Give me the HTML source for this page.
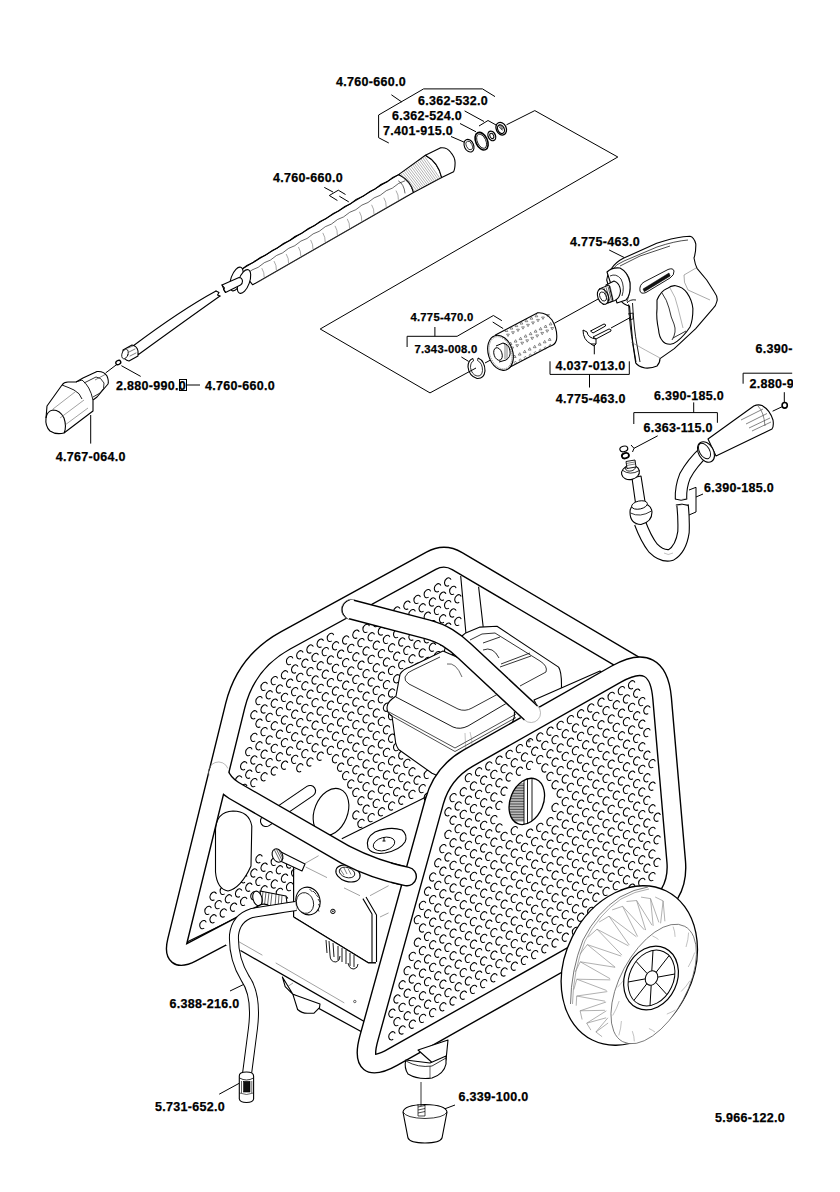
<!DOCTYPE html><html><head><meta charset="utf-8"><style>
html,body{margin:0;padding:0;background:#fff;width:840px;height:1192px;overflow:hidden}
svg{display:block}
text{font-family:"Liberation Sans",sans-serif;font-weight:bold;font-size:12.5px;letter-spacing:0.3px;fill:#000;stroke:#000;stroke-width:0.25px}
</style></head><body>
<svg width="840" height="1192" viewBox="0 0 840 1192">
<rect width="840" height="1192" fill="#fff"/>

<g>
<text x="336" y="86">4.760-660.0</text>
<text x="418" y="105">6.362-532.0</text>
<text x="392" y="119.5">6.362-524.0</text>
<text x="383" y="134.5">7.401-915.0</text>
<text x="273" y="182">4.760-660.0</text>
<text x="570" y="246">4.775-463.0</text>
<text x="555.5" y="369.8">4.037-013.0</text>
<text x="555.7" y="403">4.775-463.0</text>
<text x="654" y="399.5">6.390-185.0</text>
<text x="755.5" y="353.3">6.390-</text>
<text x="749.4" y="388.3">2.880-9</text>
<text x="643.5" y="431.8">6.363-115.0</text>
<text x="704" y="491.8">6.390-185.0</text>
<text x="116" y="389.5">2.880-990.0</text>
<text x="205" y="389.5">4.760-660.0</text>
<text x="55.7" y="461.4">4.767-064.0</text>
<text x="169.6" y="1007.7">6.388-216.0</text>
<text x="155" y="1111.1">5.731-652.0</text>
<text x="458.5" y="1101">6.339-100.0</text>
<text x="715" y="1121.7">5.966-122.0</text>
<text x="410.4" y="321" style="font-size:11.3px;letter-spacing:0.25px">4.775-470.0</text>
<text x="414.4" y="352.6" style="font-size:11.3px;letter-spacing:0.25px">7.343-008.0</text>
</g>
<rect x="793" y="340" width="47" height="55" fill="#fff"/>
<g fill="none" stroke="#000" stroke-width="1" stroke-linejoin="miter">
<polyline points="388.8,143.0 378.6,137.7 378.6,115.0 423.6,88.9 482.5,88.9 495.0,96.6"/>
<polyline points="391.4,94.8 401.8,102.0"/>
<polyline points="464.6,110.9 484.0,121.5"/>
<polyline points="479.0,126.0 488.0,120.5 497.0,125.5"/>
<polyline points="460.0,123.5 476.0,131.8"/>
<polyline points="451.0,136.5 464.5,142.3"/>
<polyline points="506.5,124.8 534.8,110.6 617.8,157.0 320.2,329.0 430.0,392.9 476.0,368.0"/>
<polyline points="485.0,363.0 495.4,357.4"/>
<polyline points="554.3,323.3 599.6,298.2"/>
<polyline points="324.3,187.4 333.1,192.1"/>
<polyline points="337.4,200.5 329.3,195.5 338.3,190.2 345.5,194.5"/>
<polyline points="339.3,196.2 348.8,201.9"/>
<rect x="179.5" y="379.5" width="7" height="11"/>
<polyline points="186.5,385.0 200.0,385.0"/>
<polyline points="121.4,365.7 140.7,376.4"/>
<polyline points="105.7,372.9 117.0,364.3"/>
<polyline points="90.7,415.0 90.7,443.6"/>
<polyline points="133.0,349.0 129.0,352.0"/>
<polyline points="407.1,347.0 407.1,336.3 457.1,336.3 493.4,315.5 501.9,320.7"/>
<polyline points="434.9,327.0 434.9,336.3"/>
<polyline points="492.7,322.0 503.2,328.6"/>
<polyline points="461.4,357.0 468.6,361.4"/>
<polyline points="550.0,361.3 550.0,374.4 629.3,374.4 629.3,361.3"/>
<polyline points="589.5,374.4 589.5,387.5"/>
<polyline points="594.3,345.7 594.3,354.3"/>
<polyline points="611.0,328.0 633.0,316.0"/>
<polyline points="609.2,250.0 624.2,257.5"/>
<polyline points="633.8,424.0 633.8,412.6 717.4,412.6 717.4,422.8"/>
<polyline points="693.7,402.4 693.7,412.6"/>
<polyline points="657.7,435.8 634.0,448.3"/>
<polyline points="631.0,445.0 634.0,448.3 632.5,452.0"/>
<polyline points="743.1,383.7 743.1,373.2 792.2,373.2"/>
<polyline points="784.3,392.2 784.3,402.5"/>
<polyline points="772.6,411.2 782.4,406.6"/>
<polyline points="689.0,490.0 696.0,487.3 696.0,512.0 689.0,515.0"/>
<polyline points="703.0,494.0 696.0,497.0"/>
<polyline points="230.0,991.0 246.0,983.3"/>
<polyline points="219.2,1094.2 239.2,1083.3"/>
<polyline points="435.0,1112.5 455.0,1105.0"/>
</g>
<g fill="#fff" stroke="#000" stroke-width="1.1">
<ellipse cx="469" cy="145.7" rx="4.6" ry="6.6" transform="rotate(-25 469 145.7)"/>
<ellipse cx="469.3" cy="145.6" rx="2.8" ry="4.6" transform="rotate(-25 469 145.7)" stroke-width="0.7"/>
<ellipse cx="481.6" cy="141.2" rx="5.8" ry="9.3" transform="rotate(-25 481.6 141.2)" fill="none" stroke-width="1.6"/>
<ellipse cx="481.6" cy="141.2" rx="4.2" ry="7.6" transform="rotate(-25 481.6 141.2)" fill="none" stroke-width="0.8"/>
<ellipse cx="491.8" cy="135.9" rx="3.6" ry="5" transform="rotate(-25 491.8 135.9)" stroke-width="1.3"/>
<ellipse cx="491.8" cy="135.9" rx="1.8" ry="2.8" transform="rotate(-25 491.8 135.9)" stroke-width="1"/>
<ellipse cx="501.2" cy="128.7" rx="5" ry="6.6" transform="rotate(-25 501.2 128.7)" stroke-width="1.3"/>
<ellipse cx="500.8" cy="129" rx="3.2" ry="4.6" transform="rotate(-25 501.2 128.7)" stroke-width="1.2"/>
<path d="M498.5 126.5l4 4M499 125l3.5 5M500 124.5l3 4.5" stroke-width="0.6"/>
</g>
<g fill="#fff" stroke="#000" stroke-width="1.1" stroke-linejoin="round" stroke-linecap="round">
<path d="M216 291 Q181 310 133 346 L138.5 354.5 Q186 320 220 296" />
<path d="M216 291 L219 292.5 L217.5 295 L220 296" fill="none"/>
<path d="M240.8 269.9 L398.6 174.6 Q408 178 411 186 Q413 190 413.5 192.5 L252.7 284.8 Z"/>
<path d="M246 274.5 Q252.1 268.9 258.2 267.3 Q264.3 261.7 270.4 260.1 Q276.5 254.5 282.6 252.9 Q288.7 247.3 294.8 245.7 Q300.9 240.1 307.0 238.5 Q313.1 232.9 319.2 231.3 Q325.3 225.7 331.4 224.1 Q337.5 218.5 343.6 216.9 Q349.7 211.3 355.8 209.7 Q361.9 204.1 368.0 202.5 Q374.1 196.9 380.2 195.3 Q386.3 189.7 392.4 188.1 Q398.5 182.5 404.6 180.9" fill="none" stroke-width="0.6"/>
<path d="M241 270 Q247.1 264.6 253.2 262.6 Q259.3 257.2 265.4 255.3 Q271.5 249.9 277.6 247.9 Q283.7 242.5 289.8 240.5 Q295.9 235.1 302.0 233.2 Q308.1 227.8 314.2 225.8 Q320.3 220.4 326.4 218.4 Q332.5 213.0 338.6 211.0 Q344.7 205.6 350.8 203.7 Q356.9 198.3 363.0 196.3 Q369.1 190.9 375.2 188.9 Q381.3 183.5 387.4 181.6 Q393.5 176.2 399.6 174.2" fill="none" stroke-width="1.1"/>
<path d="M258.7 281.8 L407.5 195.5" fill="none" stroke-width="0.5" stroke="#555"/>
<path d="M262.0 268.5 q2.5 4 2.2 8.5 M274.2 261.4 q2.5 4 2.2 8.5 M286.4 254.4 q2.5 4 2.2 8.5 M298.6 247.3 q2.5 4 2.2 8.5 M310.8 240.3 q2.5 4 2.2 8.5 M323.0 233.2 q2.5 4 2.2 8.5 M335.2 226.2 q2.5 4 2.2 8.5 M347.4 219.2 q2.5 4 2.2 8.5 M359.6 212.1 q2.5 4 2.2 8.5 M371.8 205.1 q2.5 4 2.2 8.5 M384.0 198.0 q2.5 4 2.2 8.5 M396.2 190.9 q2.5 4 2.2 8.5 " fill="none" stroke-width="0.5" stroke="#555"/>
<path d="M398.6 181 Q404 184 405 193" fill="none" stroke-width="0.6"/>
<path d="M398.6 174.6 L425.4 155.3 Q438 162 441.7 177.6 L413.5 192.5 Q411 181 398.6 174.6 Z"/>
<path d="M401.0 174.0L415.0 191.5M402.7 172.8L416.8 190.6M404.4 171.5L418.6 189.6M406.0 170.2L420.4 188.7M407.7 169.0L422.1 187.8M409.4 167.8L423.9 186.9M411.1 166.5L425.7 185.9M412.8 165.2L427.5 185.0M414.4 164.0L429.3 184.1M416.1 162.8L431.1 183.1M417.8 161.5L432.9 182.2M419.5 160.2L434.6 181.3M421.1 159.0L436.4 180.4M422.8 157.8L438.2 179.4M424.5 156.5L440.0 178.5" fill="none" stroke-width="0.45" stroke="#555"/>
<path d="M425.4 155.3 L440.2 147.9 Q447 147 450.7 152.3 Q455 157 455.1 162.7 Q455 169 453.6 171.7 L441.7 177.6 Q438 162 425.4 155.3 Z"/>
<ellipse cx="236.5" cy="279" rx="5.5" ry="12.5" transform="rotate(20 236.5 279)"/>
<ellipse cx="244" cy="281.5" rx="5.5" ry="12.5" transform="rotate(20 244 281.5)"/>
<path d="M222 285 L239 277.5 Q242 277.5 242.5 281 Q242.5 284 240.5 285 L225.5 292.5 L224 289.5 L222 285Z"/>
<path d="M222 285 l2.5 3 l-1 1.5 l2 3" fill="none"/>
<path d="M123 350 L132 345 Q137 346 138 351 L138 356 L129 361 Q124 360 123 355 Z"/>
<ellipse cx="125" cy="354" rx="3" ry="5" transform="rotate(20 125 354)" stroke-width="0.8"/>
<path d="M128 348 l5 -2 M129 352 l6 -3 M130 356 l6 -3" stroke-width="0.5" fill="none"/>
<ellipse cx="118.3" cy="362.5" rx="2.6" ry="2" transform="rotate(-30 118.3 362.5)" stroke-width="1.3"/>
</g>
<g fill="#fff" stroke="#000" stroke-width="1.1" stroke-linejoin="round">
<path d="M47 406 L62 385 Q64 382 68 382 L76 382 L83 378 L97 371.5 Q104 371 107 376 Q109 381 108 384 L97 397 L93 400 L93 411 L89 414 L64 433 Q56 435 50 431 Q45 426 46 418 Z"/>
<path d="M46 418 Q47 411 53 410 Q60 410 64 418 Q67 427 64 433" fill="none"/>
<path d="M62 385 Q70 388 74 390 Q80 393 82 399 M76 382 L82 380 Q90 386 93 400" fill="none" stroke-width="0.9"/>
<path d="M84 383 L96 377 Q101 377 104 383 Q105 389 100 393 L93 397" fill="none" stroke-width="0.8"/>
<path d="M53 409 L75 392 M60 418 L84 400 M65 425 L88 408" fill="none" stroke-width="0.5" stroke="#444"/>
<path d="M95 380 L106 374" fill="none" stroke-width="0.5"/>
</g>
<g fill="#fff" stroke="#000" stroke-width="1.1" stroke-linejoin="round">
<path d="M495.4 335.1 L537.3 312.9 Q546 312 552 320 Q558 330 556.5 340 Q555 345 550.4 346 L503.2 370.5 Z"/>
<ellipse cx="500.5" cy="352.8" rx="12.2" ry="18" transform="rotate(-18 500.5 352.8)"/>
<ellipse cx="500.5" cy="352.8" rx="10.8" ry="16.6" transform="rotate(-18 500.5 352.8)" fill="none" stroke-width="0.5" stroke-dasharray="1 1"/>
<path d="M496 346 L503 343 Q509 344 510 351 Q511 357 506 360 L499 362" stroke-width="1"/>
<ellipse cx="498" cy="354" rx="4" ry="6.5" transform="rotate(-18 498 354)" stroke-width="0.9"/>
<path d="M503 343 l2 2 l0 14 M505 344 l2 2 l0 13" fill="none" stroke-width="0.5"/>
<path d="M505.0 331.5l1.4 -2.4l1.4 2.4zM510.0 329.1l1.4 -2.4l1.4 2.4zM515.0 326.6l1.4 -2.4l1.4 2.4zM520.0 324.1l1.4 -2.4l1.4 2.4zM525.0 321.7l1.4 -2.4l1.4 2.4zM530.0 319.2l1.4 -2.4l1.4 2.4zM535.0 316.8l1.4 -2.4l1.4 2.4zM506.6 334.1l1.4 2.4l1.4 -2.4zM511.6 331.7l1.4 2.4l1.4 -2.4zM516.6 329.2l1.4 2.4l1.4 -2.4zM521.6 326.8l1.4 2.4l1.4 -2.4zM526.6 324.3l1.4 2.4l1.4 -2.4zM531.6 321.9l1.4 2.4l1.4 -2.4zM536.6 319.4l1.4 2.4l1.4 -2.4zM541.6 317.0l1.4 2.4l1.4 -2.4zM546.6 314.5l1.4 2.4l1.4 -2.4zM509.2 344.5l1.4 -2.4l1.4 2.4zM514.2 342.1l1.4 -2.4l1.4 2.4zM519.2 339.6l1.4 -2.4l1.4 2.4zM524.2 337.1l1.4 -2.4l1.4 2.4zM529.2 334.7l1.4 -2.4l1.4 2.4zM534.2 332.2l1.4 -2.4l1.4 2.4zM539.2 329.8l1.4 -2.4l1.4 2.4zM544.2 327.4l1.4 -2.4l1.4 2.4zM549.2 324.9l1.4 -2.4l1.4 2.4zM510.8 347.1l1.4 2.4l1.4 -2.4zM515.8 344.7l1.4 2.4l1.4 -2.4zM520.8 342.2l1.4 2.4l1.4 -2.4zM525.8 339.8l1.4 2.4l1.4 -2.4zM530.8 337.3l1.4 2.4l1.4 -2.4zM535.8 334.9l1.4 2.4l1.4 -2.4zM540.8 332.4l1.4 2.4l1.4 -2.4zM545.8 330.0l1.4 2.4l1.4 -2.4zM550.8 327.5l1.4 2.4l1.4 -2.4zM513.3 357.5l1.4 -2.4l1.4 2.4zM518.3 355.1l1.4 -2.4l1.4 2.4zM523.3 352.6l1.4 -2.4l1.4 2.4zM528.3 350.1l1.4 -2.4l1.4 2.4zM533.3 347.7l1.4 -2.4l1.4 2.4zM538.3 345.2l1.4 -2.4l1.4 2.4zM543.3 342.8l1.4 -2.4l1.4 2.4zM548.3 340.4l1.4 -2.4l1.4 2.4zM515.3 361.5a1.1 1.1 0 1 0 0.1 0zM520.3 359.1a1.1 1.1 0 1 0 0.1 0zM525.3 356.6a1.1 1.1 0 1 0 0.1 0zM530.3 354.1a1.1 1.1 0 1 0 0.1 0zM535.3 351.7a1.1 1.1 0 1 0 0.1 0zM540.3 349.2a1.1 1.1 0 1 0 0.1 0zM545.3 346.8a1.1 1.1 0 1 0 0.1 0zM550.3 344.4a1.1 1.1 0 1 0 0.1 0z" fill="none" stroke-width="0.55" stroke="#333"/>
</g>
<g fill="none" stroke="#000">
<path d="M473 358.5 Q468 360 468 367 Q469 376 477 378.5 Q484 379 485 371 Q485 361 478 358" stroke-width="1.1"/>
<path d="M473.5 361 Q470.5 362 470.5 367.5 Q471.5 374.5 477 376 Q482 376.5 482.5 370.5 Q482.5 363 477.5 360.5" stroke-width="0.8"/>
<path d="M473 358.5 L473.5 361 M478 358 L477.5 360.5" stroke-width="0.8"/>
</g>
<g fill="#fff" stroke="#000" stroke-width="1" stroke-linejoin="round">
<path d="M590.5 331 L604 324 Q606 324 605.5 326 L593 333 Z"/>
<path d="M593 337 L609 329 Q611.5 329 611 331 L596 339 Z"/>
<path d="M583 330 Q583 340 591 344 L596 344 L596 339 Q588 338 587 332 Z"/>
<path d="M591 344 L594 346 L596 344" fill="none"/>
</g>
<g fill="#fff" stroke="#000" stroke-width="1.1" stroke-linejoin="round">
<path d="M606.7 280 Q608 272 611.7 268.3 Q616 262 623.3 258.3 L656.7 243.3 Q672 238 683.3 236.7 L690 236.3 Q694 237 695.8 244 Q696 252 694 258 Q695 264 697 268.3 L706.7 280 L714.2 291.7 Q718 297 717 301 Q716 306 712.9 308.6 L695.7 328.6 L674.3 348.6 L660 358.6 Q660 363 657 366 Q652 368.5 645 368 Q638 366.5 635.7 362.9 L632.9 344.3 L629.5 306 Q624 305 620 300 L612 298 Z"/>
<path d="M612 270 Q616 264 624 261 L657 247 Q675 241 688 240 M620 266 Q628 262 640 256 L670 246" fill="none" stroke-width="0.7"/>
<path d="M612 270 Q617 270 620 276 Q622 283 619 292" fill="none" stroke-width="0.9"/>
<path d="M622 270 Q628 272 630 282 Q631 292 627 302" fill="none" stroke-width="0.7"/>
<path d="M696 268 L684 275 Q683 282 688 290 L710 300" fill="none" stroke-width="0.5" stroke="#555"/>
<path d="M640 291 Q639 285 644 282 L668 269.5 Q673 267.5 674 271 Q674.5 275 670 278 L646 292.5 Q641 294.5 640 291 Z" stroke-width="0.9"/>
<path d="M643 289 L669 273 L670.2 276 L644.3 291.7 Z" fill="#111" stroke-width="0.5"/>
<path d="M657 300 Q661 291 667 288.6 Q672 285 675.7 285.7 Q683 287 687 292.9 Q692 300 692.9 308.6 Q693 320 690 327 Q684 336 677 341.4 Q673 344.5 670 344.3 Q665 344 662.9 341.4 Q659 337 658.6 330 Q656 318 657 308.6 Z"/>
<path d="M662 293 Q667 300 669 308 Q671 318 674 324 Q677 332 672 340 M673 338 L686 331" fill="none" stroke-width="0.8"/>
<path d="M670 288 Q676 297 678 308 Q681 320 683 328" fill="none" stroke-width="0.5" stroke="#666"/>
<path d="M628.6 304.3 Q630 330 633 344 L636 362 M632.5 303 Q634 330 637 345 L640 362" fill="none" stroke-width="0.9"/>
<path d="M627 303 Q630 299 636 300" fill="none" stroke-width="0.9"/>
<path d="M631 342 Q645 350 660 358" fill="none" stroke-width="0.5" stroke="#666"/>
<path d="M628 314 l5 -1 l0 6 l-4 1" fill="none" stroke-width="0.8"/>
<path d="M607 272 Q612 267 620 268 Q628 272 630 283 Q631 295 626 300 L617 303 Z"/>
<path d="M610 276 Q616 273 621 279 Q625 287 622 296" fill="none" stroke-width="0.8"/>
<path d="M606 285 L614 281 Q620 283 620.5 291 Q620 298 615 300.5 L608 303 Z"/>
<path d="M599 289 L609 285 L613 301 L603 304.5 Z" stroke-width="1"/>
<ellipse cx="603" cy="296.5" rx="5.2" ry="8" transform="rotate(-22 603 296.5)" stroke-width="1.1"/>
<ellipse cx="603" cy="296.5" rx="3" ry="4.8" transform="rotate(-22 603 296.5)" stroke-width="0.8"/>
<path d="M604 288 l4 14 M606 287.3 l4 14 M608 286.5 l3.5 14 M610 286 l3 13.5" fill="none" stroke-width="0.6"/>
</g>
<g fill="#fff" stroke="#000" stroke-width="1.1" stroke-linejoin="round">
<path d="M705 451 Q692 463 685 476 Q680.5 487 681 499" fill="none" stroke="#000" stroke-width="12.5" stroke-linecap="butt"/>
<path d="M705 451 Q692 463 685 476 Q680.5 487 681 499" fill="none" stroke="#fff" stroke-width="10.3" stroke-linecap="butt"/>
<path d="M682.5 505 Q684 518 683.5 532 Q681 549 671 555 Q662 557 653 548 Q646 539 640 523" fill="none" stroke="#000" stroke-width="12.5" stroke-linecap="butt"/>
<path d="M682.5 505 Q684 518 683.5 532 Q681 549 671 555 Q662 557 653 548 Q646 539 640 523" fill="none" stroke="#fff" stroke-width="10.3" stroke-linecap="butt"/>
<path d="M675 499 Q681 501.5 687.3 499 M675.8 505 Q682 503 688.2 505.5" fill="none" stroke-width="1"/>
<path d="M664 553 Q668 556 673 553" fill="none" stroke-width="0.4" stroke="#666"/>
<path d="M708 439 L753.8 406 Q758 404 762 405.5 Q770 410 773 420 Q774 426 772 429 L716 456 Z"/>
<path d="M758 406 Q764 412 765 426 M741 420 L763 409 M746 424 L767 413.5 M749 428 L770 418 M752 431 L771 422" fill="none" stroke-width="0.6" stroke="#333"/>
<ellipse cx="706" cy="452" rx="7.5" ry="11" transform="rotate(-30 706 452)"/>
<ellipse cx="704.5" cy="451" rx="5" ry="8.5" transform="rotate(-30 704.5 451)" stroke-width="0.9"/>
<path d="M632 478 L641 476 L646 508 L636.5 510 Z"/>
<path d="M630 512 Q630 504 640 503.5 Q651 503 652 512 Q652 522 641 524.5 Q630 524 630 512 Z"/>
<path d="M630.5 513 Q640 518 651.5 511" fill="none" stroke-width="0.8"/>
<ellipse cx="639.5" cy="505" rx="8" ry="4" transform="rotate(-12 639.5 505)" stroke-width="0.9"/>
<ellipse cx="630.5" cy="472.5" rx="9" ry="7" transform="rotate(-12 630.5 472.5)"/>
<path d="M622 470 Q630 476 639.5 470.5" fill="none" stroke-width="0.8"/>
<ellipse cx="630.5" cy="468" rx="5" ry="3" transform="rotate(-12 630.5 468)" stroke-width="0.8"/>
<path d="M626 461.5 L635 460 L636 467 L627 468.5 Z" stroke-width="0.9"/>
<path d="M626.3 463.5 l9 -1.6 M626.6 465.5 l9 -1.6" fill="none" stroke-width="0.5"/>
<ellipse cx="623.8" cy="448.9" rx="4" ry="2.7" transform="rotate(-15 623.8 448.9)" stroke-width="1.2"/>
<ellipse cx="625.4" cy="455.7" rx="3.6" ry="2.6" transform="rotate(-15 625.4 455.7)" stroke-width="1.8"/>
<ellipse cx="784.7" cy="405.3" rx="2.6" ry="2.8" stroke-width="1.6"/>
</g>
<path d="M206.2 922.3A3.1 4.3 22 1 0 204.2 928.1M211.3 908.1A3.1 4.3 22 1 0 209.3 913.9M216.4 916.5A3.1 4.3 22 1 0 214.4 922.3M216.4 893.9A3.1 4.3 22 1 0 214.4 899.7M221.5 902.3A3.1 4.3 22 1 0 219.5 908.1M226.6 910.7A3.1 4.3 22 1 0 224.6 916.5M226.6 888.1A3.1 4.3 22 1 0 224.6 893.9M231.7 896.5A3.1 4.3 22 1 0 229.7 902.3M236.8 904.9A3.1 4.3 22 1 0 234.8 910.7M236.8 882.3A3.1 4.3 22 1 0 234.8 888.1M241.9 890.7A3.1 4.3 22 1 0 239.9 896.5M247.0 899.1A3.1 4.3 22 1 0 245.0 904.9M247.0 876.5A3.1 4.3 22 1 0 245.0 882.3M252.1 884.9A3.1 4.3 22 1 0 250.1 890.7M257.2 893.3A3.1 4.3 22 1 0 255.2 899.1M257.2 870.7A3.1 4.3 22 1 0 255.2 876.5M262.3 879.1A3.1 4.3 22 1 0 260.3 884.9M267.4 887.5A3.1 4.3 22 1 0 265.4 893.3M262.3 856.5A3.1 4.3 22 1 0 260.3 862.3M267.4 864.9A3.1 4.3 22 1 0 265.4 870.7M272.5 873.3A3.1 4.3 22 1 0 270.5 879.1M277.6 881.7A3.1 4.3 22 1 0 275.6 887.5M282.7 890.1A3.1 4.3 22 1 0 280.7 895.9M287.8 898.5A3.1 4.3 22 1 0 285.8 904.3M277.6 859.1A3.1 4.3 22 1 0 275.6 864.9M282.7 867.5A3.1 4.3 22 1 0 280.7 873.3M287.8 875.9A3.1 4.3 22 1 0 285.8 881.7M292.9 884.3A3.1 4.3 22 1 0 290.9 890.1M241.9 777.7A3.1 4.3 22 1 0 239.9 783.5M247.0 786.1A3.1 4.3 22 1 0 245.0 791.9M292.9 861.7A3.1 4.3 22 1 0 290.9 867.5M298.0 870.1A3.1 4.3 22 1 0 296.0 875.9M247.0 763.5A3.1 4.3 22 1 0 245.0 769.3M252.1 771.9A3.1 4.3 22 1 0 250.1 777.7M257.2 780.3A3.1 4.3 22 1 0 255.2 786.1M252.1 749.3A3.1 4.3 22 1 0 250.1 755.1M257.2 757.7A3.1 4.3 22 1 0 255.2 763.5M262.3 766.1A3.1 4.3 22 1 0 260.3 771.9M267.4 774.5A3.1 4.3 22 1 0 265.4 780.3M257.2 735.1A3.1 4.3 22 1 0 255.2 740.9M262.3 743.5A3.1 4.3 22 1 0 260.3 749.3M267.4 751.9A3.1 4.3 22 1 0 265.4 757.7M272.5 760.3A3.1 4.3 22 1 0 270.5 766.1M277.6 768.7A3.1 4.3 22 1 0 275.6 774.5M257.2 712.5A3.1 4.3 22 1 0 255.2 718.3M262.3 720.9A3.1 4.3 22 1 0 260.3 726.7M267.4 729.3A3.1 4.3 22 1 0 265.4 735.1M272.5 737.7A3.1 4.3 22 1 0 270.5 743.5M277.6 746.1A3.1 4.3 22 1 0 275.6 751.9M282.7 754.5A3.1 4.3 22 1 0 280.7 760.3M287.8 762.9A3.1 4.3 22 1 0 285.8 768.7M262.3 698.3A3.1 4.3 22 1 0 260.3 704.1M267.4 706.7A3.1 4.3 22 1 0 265.4 712.5M272.5 715.1A3.1 4.3 22 1 0 270.5 720.9M277.6 723.5A3.1 4.3 22 1 0 275.6 729.3M282.7 731.9A3.1 4.3 22 1 0 280.7 737.7M287.8 740.3A3.1 4.3 22 1 0 285.8 746.1M292.9 748.7A3.1 4.3 22 1 0 290.9 754.5M298.0 757.1A3.1 4.3 22 1 0 296.0 762.9M303.1 765.5A3.1 4.3 22 1 0 301.1 771.3M267.4 684.1A3.1 4.3 22 1 0 265.4 689.9M272.5 692.5A3.1 4.3 22 1 0 270.5 698.3M277.6 700.9A3.1 4.3 22 1 0 275.6 706.7M282.7 709.3A3.1 4.3 22 1 0 280.7 715.1M287.8 717.7A3.1 4.3 22 1 0 285.8 723.5M292.9 726.1A3.1 4.3 22 1 0 290.9 731.9M298.0 734.5A3.1 4.3 22 1 0 296.0 740.3M303.1 742.9A3.1 4.3 22 1 0 301.1 748.7M308.2 751.3A3.1 4.3 22 1 0 306.2 757.1M313.3 759.7A3.1 4.3 22 1 0 311.3 765.5M277.6 678.3A3.1 4.3 22 1 0 275.6 684.1M282.7 686.7A3.1 4.3 22 1 0 280.7 692.5M287.8 695.1A3.1 4.3 22 1 0 285.8 700.9M292.9 703.5A3.1 4.3 22 1 0 290.9 709.3M298.0 711.9A3.1 4.3 22 1 0 296.0 717.7M303.1 720.3A3.1 4.3 22 1 0 301.1 726.1M308.2 728.7A3.1 4.3 22 1 0 306.2 734.5M313.3 737.1A3.1 4.3 22 1 0 311.3 742.9M318.4 745.5A3.1 4.3 22 1 0 316.4 751.3M323.5 753.9A3.1 4.3 22 1 0 321.5 759.7M359.2 812.7A3.1 4.3 22 1 0 357.2 818.5M364.3 821.1A3.1 4.3 22 1 0 362.3 826.9M287.8 672.5A3.1 4.3 22 1 0 285.8 678.3M292.9 680.9A3.1 4.3 22 1 0 290.9 686.7M298.0 689.3A3.1 4.3 22 1 0 296.0 695.1M303.1 697.7A3.1 4.3 22 1 0 301.1 703.5M308.2 706.1A3.1 4.3 22 1 0 306.2 711.9M313.3 714.5A3.1 4.3 22 1 0 311.3 720.3M318.4 722.9A3.1 4.3 22 1 0 316.4 728.7M323.5 731.3A3.1 4.3 22 1 0 321.5 737.1M328.6 739.7A3.1 4.3 22 1 0 326.6 745.5M333.7 748.1A3.1 4.3 22 1 0 331.7 753.9M338.8 756.5A3.1 4.3 22 1 0 336.8 762.3M343.9 764.9A3.1 4.3 22 1 0 341.9 770.7M349.0 773.3A3.1 4.3 22 1 0 347.0 779.1M354.1 781.7A3.1 4.3 22 1 0 352.1 787.5M359.2 790.1A3.1 4.3 22 1 0 357.2 795.9M364.3 798.5A3.1 4.3 22 1 0 362.3 804.3M369.4 806.9A3.1 4.3 22 1 0 367.4 812.7M374.5 815.3A3.1 4.3 22 1 0 372.5 821.1M292.9 658.3A3.1 4.3 22 1 0 290.9 664.1M298.0 666.7A3.1 4.3 22 1 0 296.0 672.5M303.1 675.1A3.1 4.3 22 1 0 301.1 680.9M308.2 683.5A3.1 4.3 22 1 0 306.2 689.3M313.3 691.9A3.1 4.3 22 1 0 311.3 697.7M318.4 700.3A3.1 4.3 22 1 0 316.4 706.1M323.5 708.7A3.1 4.3 22 1 0 321.5 714.5M328.6 717.1A3.1 4.3 22 1 0 326.6 722.9M333.7 725.5A3.1 4.3 22 1 0 331.7 731.3M338.8 733.9A3.1 4.3 22 1 0 336.8 739.7M343.9 742.3A3.1 4.3 22 1 0 341.9 748.1M349.0 750.7A3.1 4.3 22 1 0 347.0 756.5M354.1 759.1A3.1 4.3 22 1 0 352.1 764.9M359.2 767.5A3.1 4.3 22 1 0 357.2 773.3M364.3 775.9A3.1 4.3 22 1 0 362.3 781.7M369.4 784.3A3.1 4.3 22 1 0 367.4 790.1M374.5 792.7A3.1 4.3 22 1 0 372.5 798.5M379.6 801.1A3.1 4.3 22 1 0 377.6 806.9M384.7 809.5A3.1 4.3 22 1 0 382.7 815.3M303.1 652.5A3.1 4.3 22 1 0 301.1 658.3M308.2 660.9A3.1 4.3 22 1 0 306.2 666.7M313.3 669.3A3.1 4.3 22 1 0 311.3 675.1M318.4 677.7A3.1 4.3 22 1 0 316.4 683.5M323.5 686.1A3.1 4.3 22 1 0 321.5 691.9M328.6 694.5A3.1 4.3 22 1 0 326.6 700.3M333.7 702.9A3.1 4.3 22 1 0 331.7 708.7M338.8 711.3A3.1 4.3 22 1 0 336.8 717.1M343.9 719.7A3.1 4.3 22 1 0 341.9 725.5M349.0 728.1A3.1 4.3 22 1 0 347.0 733.9M354.1 736.5A3.1 4.3 22 1 0 352.1 742.3M359.2 744.9A3.1 4.3 22 1 0 357.2 750.7M364.3 753.3A3.1 4.3 22 1 0 362.3 759.1M369.4 761.7A3.1 4.3 22 1 0 367.4 767.5M374.5 770.1A3.1 4.3 22 1 0 372.5 775.9M379.6 778.5A3.1 4.3 22 1 0 377.6 784.3M384.7 786.9A3.1 4.3 22 1 0 382.7 792.7M389.8 795.3A3.1 4.3 22 1 0 387.8 801.1M394.9 803.7A3.1 4.3 22 1 0 392.9 809.5M313.3 646.7A3.1 4.3 22 1 0 311.3 652.5M318.4 655.1A3.1 4.3 22 1 0 316.4 660.9M323.5 663.5A3.1 4.3 22 1 0 321.5 669.3M328.6 671.9A3.1 4.3 22 1 0 326.6 677.7M333.7 680.3A3.1 4.3 22 1 0 331.7 686.1M338.8 688.7A3.1 4.3 22 1 0 336.8 694.5M343.9 697.1A3.1 4.3 22 1 0 341.9 702.9M349.0 705.5A3.1 4.3 22 1 0 347.0 711.3M354.1 713.9A3.1 4.3 22 1 0 352.1 719.7M359.2 722.3A3.1 4.3 22 1 0 357.2 728.1M364.3 730.7A3.1 4.3 22 1 0 362.3 736.5M369.4 739.1A3.1 4.3 22 1 0 367.4 744.9M374.5 747.5A3.1 4.3 22 1 0 372.5 753.3M379.6 755.9A3.1 4.3 22 1 0 377.6 761.7M384.7 764.3A3.1 4.3 22 1 0 382.7 770.1M389.8 772.7A3.1 4.3 22 1 0 387.8 778.5M394.9 781.1A3.1 4.3 22 1 0 392.9 786.9M400.0 789.5A3.1 4.3 22 1 0 398.0 795.3M405.1 797.9A3.1 4.3 22 1 0 403.1 803.7M323.5 640.9A3.1 4.3 22 1 0 321.5 646.7M328.6 649.3A3.1 4.3 22 1 0 326.6 655.1M333.7 657.7A3.1 4.3 22 1 0 331.7 663.5M338.8 666.1A3.1 4.3 22 1 0 336.8 671.9M343.9 674.5A3.1 4.3 22 1 0 341.9 680.3M349.0 682.9A3.1 4.3 22 1 0 347.0 688.7M354.1 691.3A3.1 4.3 22 1 0 352.1 697.1M359.2 699.7A3.1 4.3 22 1 0 357.2 705.5M364.3 708.1A3.1 4.3 22 1 0 362.3 713.9M369.4 716.5A3.1 4.3 22 1 0 367.4 722.3M374.5 724.9A3.1 4.3 22 1 0 372.5 730.7M379.6 733.3A3.1 4.3 22 1 0 377.6 739.1M384.7 741.7A3.1 4.3 22 1 0 382.7 747.5M389.8 750.1A3.1 4.3 22 1 0 387.8 755.9M394.9 758.5A3.1 4.3 22 1 0 392.9 764.3M400.0 766.9A3.1 4.3 22 1 0 398.0 772.7M405.1 775.3A3.1 4.3 22 1 0 403.1 781.1M410.2 783.7A3.1 4.3 22 1 0 408.2 789.5M415.3 792.1A3.1 4.3 22 1 0 413.3 797.9M333.7 635.1A3.1 4.3 22 1 0 331.7 640.9M338.8 643.5A3.1 4.3 22 1 0 336.8 649.3M343.9 651.9A3.1 4.3 22 1 0 341.9 657.7M349.0 660.3A3.1 4.3 22 1 0 347.0 666.1M354.1 668.7A3.1 4.3 22 1 0 352.1 674.5M359.2 677.1A3.1 4.3 22 1 0 357.2 682.9M364.3 685.5A3.1 4.3 22 1 0 362.3 691.3M369.4 693.9A3.1 4.3 22 1 0 367.4 699.7M374.5 702.3A3.1 4.3 22 1 0 372.5 708.1M379.6 710.7A3.1 4.3 22 1 0 377.6 716.5M384.7 719.1A3.1 4.3 22 1 0 382.7 724.9M389.8 727.5A3.1 4.3 22 1 0 387.8 733.3M394.9 735.9A3.1 4.3 22 1 0 392.9 741.7M400.0 744.3A3.1 4.3 22 1 0 398.0 750.1M405.1 752.7A3.1 4.3 22 1 0 403.1 758.5M410.2 761.1A3.1 4.3 22 1 0 408.2 766.9M415.3 769.5A3.1 4.3 22 1 0 413.3 775.3M420.4 777.9A3.1 4.3 22 1 0 418.4 783.7M425.5 786.3A3.1 4.3 22 1 0 423.5 792.1M430.6 794.7A3.1 4.3 22 1 0 428.6 800.5M349.0 637.7A3.1 4.3 22 1 0 347.0 643.5M354.1 646.1A3.1 4.3 22 1 0 352.1 651.9M359.2 654.5A3.1 4.3 22 1 0 357.2 660.3M364.3 662.9A3.1 4.3 22 1 0 362.3 668.7M369.4 671.3A3.1 4.3 22 1 0 367.4 677.1M374.5 679.7A3.1 4.3 22 1 0 372.5 685.5M379.6 688.1A3.1 4.3 22 1 0 377.6 693.9M384.7 696.5A3.1 4.3 22 1 0 382.7 702.3M389.8 704.9A3.1 4.3 22 1 0 387.8 710.7M394.9 713.3A3.1 4.3 22 1 0 392.9 719.1M400.0 721.7A3.1 4.3 22 1 0 398.0 727.5M405.1 730.1A3.1 4.3 22 1 0 403.1 735.9M430.6 772.1A3.1 4.3 22 1 0 428.6 777.9M359.2 631.9A3.1 4.3 22 1 0 357.2 637.7M364.3 640.3A3.1 4.3 22 1 0 362.3 646.1M369.4 648.7A3.1 4.3 22 1 0 367.4 654.5M374.5 657.1A3.1 4.3 22 1 0 372.5 662.9M379.6 665.5A3.1 4.3 22 1 0 377.6 671.3M384.7 673.9A3.1 4.3 22 1 0 382.7 679.7M389.8 682.3A3.1 4.3 22 1 0 387.8 688.1M394.9 690.7A3.1 4.3 22 1 0 392.9 696.5M400.0 699.1A3.1 4.3 22 1 0 398.0 704.9M405.1 707.5A3.1 4.3 22 1 0 403.1 713.3M410.2 715.9A3.1 4.3 22 1 0 408.2 721.7M415.3 724.3A3.1 4.3 22 1 0 413.3 730.1M369.4 626.1A3.1 4.3 22 1 0 367.4 631.9M374.5 634.5A3.1 4.3 22 1 0 372.5 640.3M379.6 642.9A3.1 4.3 22 1 0 377.6 648.7M384.7 651.3A3.1 4.3 22 1 0 382.7 657.1M389.8 659.7A3.1 4.3 22 1 0 387.8 665.5M394.9 668.1A3.1 4.3 22 1 0 392.9 673.9M400.0 676.5A3.1 4.3 22 1 0 398.0 682.3M405.1 684.9A3.1 4.3 22 1 0 403.1 690.7M410.2 693.3A3.1 4.3 22 1 0 408.2 699.1M415.3 701.7A3.1 4.3 22 1 0 413.3 707.5M420.4 710.1A3.1 4.3 22 1 0 418.4 715.9M379.6 620.3A3.1 4.3 22 1 0 377.6 626.1M384.7 628.7A3.1 4.3 22 1 0 382.7 634.5M389.8 637.1A3.1 4.3 22 1 0 387.8 642.9M394.9 645.5A3.1 4.3 22 1 0 392.9 651.3M400.0 653.9A3.1 4.3 22 1 0 398.0 659.7M405.1 662.3A3.1 4.3 22 1 0 403.1 668.1M410.2 670.7A3.1 4.3 22 1 0 408.2 676.5M415.3 679.1A3.1 4.3 22 1 0 413.3 684.9M420.4 687.5A3.1 4.3 22 1 0 418.4 693.3M425.5 695.9A3.1 4.3 22 1 0 423.5 701.7M430.6 704.3A3.1 4.3 22 1 0 428.6 710.1M389.8 614.5A3.1 4.3 22 1 0 387.8 620.3M394.9 622.9A3.1 4.3 22 1 0 392.9 628.7M400.0 631.3A3.1 4.3 22 1 0 398.0 637.1M405.1 639.7A3.1 4.3 22 1 0 403.1 645.5M410.2 648.1A3.1 4.3 22 1 0 408.2 653.9M415.3 656.5A3.1 4.3 22 1 0 413.3 662.3M420.4 664.9A3.1 4.3 22 1 0 418.4 670.7M425.5 673.3A3.1 4.3 22 1 0 423.5 679.1M430.6 681.7A3.1 4.3 22 1 0 428.6 687.5M435.7 690.1A3.1 4.3 22 1 0 433.7 695.9M440.8 698.5A3.1 4.3 22 1 0 438.8 704.3M400.0 608.7A3.1 4.3 22 1 0 398.0 614.5M405.1 617.1A3.1 4.3 22 1 0 403.1 622.9M410.2 625.5A3.1 4.3 22 1 0 408.2 631.3M415.3 633.9A3.1 4.3 22 1 0 413.3 639.7M420.4 642.3A3.1 4.3 22 1 0 418.4 648.1M425.5 650.7A3.1 4.3 22 1 0 423.5 656.5M430.6 659.1A3.1 4.3 22 1 0 428.6 664.9M435.7 667.5A3.1 4.3 22 1 0 433.7 673.3M440.8 675.9A3.1 4.3 22 1 0 438.8 681.7M445.9 684.3A3.1 4.3 22 1 0 443.9 690.1M410.2 602.9A3.1 4.3 22 1 0 408.2 608.7M415.3 611.3A3.1 4.3 22 1 0 413.3 617.1M420.4 619.7A3.1 4.3 22 1 0 418.4 625.5M425.5 628.1A3.1 4.3 22 1 0 423.5 633.9M430.6 636.5A3.1 4.3 22 1 0 428.6 642.3M435.7 644.9A3.1 4.3 22 1 0 433.7 650.7M440.8 653.3A3.1 4.3 22 1 0 438.8 659.1M445.9 661.7A3.1 4.3 22 1 0 443.9 667.5M451.0 670.1A3.1 4.3 22 1 0 449.0 675.9M420.4 597.1A3.1 4.3 22 1 0 418.4 602.9M425.5 605.5A3.1 4.3 22 1 0 423.5 611.3M430.6 613.9A3.1 4.3 22 1 0 428.6 619.7M435.7 622.3A3.1 4.3 22 1 0 433.7 628.1M440.8 630.7A3.1 4.3 22 1 0 438.8 636.5M445.9 639.1A3.1 4.3 22 1 0 443.9 644.9M451.0 647.5A3.1 4.3 22 1 0 449.0 653.3M456.1 655.9A3.1 4.3 22 1 0 454.1 661.7M430.6 591.3A3.1 4.3 22 1 0 428.6 597.1M435.7 599.7A3.1 4.3 22 1 0 433.7 605.5M440.8 608.1A3.1 4.3 22 1 0 438.8 613.9M445.9 616.5A3.1 4.3 22 1 0 443.9 622.3M451.0 624.9A3.1 4.3 22 1 0 449.0 630.7M456.1 633.3A3.1 4.3 22 1 0 454.1 639.1M461.2 641.7A3.1 4.3 22 1 0 459.2 647.5M440.8 585.5A3.1 4.3 22 1 0 438.8 591.3M445.9 593.9A3.1 4.3 22 1 0 443.9 599.7M451.0 602.3A3.1 4.3 22 1 0 449.0 608.1M456.1 610.7A3.1 4.3 22 1 0 454.1 616.5M461.2 619.1A3.1 4.3 22 1 0 459.2 624.9M451.0 579.7A3.1 4.3 22 1 0 449.0 585.5M456.1 588.1A3.1 4.3 22 1 0 454.1 593.9M461.2 596.5A3.1 4.3 22 1 0 459.2 602.3" fill="none" stroke="#000" stroke-width="1.05"/>
<path d="M187 942 L229 921.4 L262 905.5" fill="none" stroke="#000" stroke-width="1.1"/>
<g fill="#fff" stroke="#000" stroke-width="1.1">
<path d="M215.5 830 Q216 812 233 811 Q249 811 251.8 826 L251 866 Q241 888 228 891 Q217 889 215.5 872 Z"/>
<ellipse cx="331" cy="812" rx="16.5" ry="24.5" transform="rotate(22 331 812)"/>
<path d="M266 821 L310 791" fill="none" stroke="#000" stroke-width="12.2" stroke-linecap="round"/>
<path d="M266 821 L310 791" fill="none" stroke="#fff" stroke-width="10" stroke-linecap="round"/>
</g>
<path d="M460.7 576 L466 634 M478.6 586.8 L484 634" stroke="#000" stroke-width="1.1" fill="none"/>
<g fill="#fff" stroke="#000" stroke-width="1.1" stroke-linejoin="round">
<path d="M462 636 L465.7 632.9 L480 627.1 L497 626.3 L545.7 658.6 L558.6 667.1 Q562 672 561.4 690 L540 705 L470 700 Z"/>
<path d="M470 640 L482 634 L495 633 L540 661 Q548 666 546 672 L520 686" fill="none" stroke-width="0.8"/>
<path d="M483 643 L500 637 M500 667 L531 656 M501 664 L530 653" fill="none" stroke-width="0.8"/>
<path d="M483 650 Q493 646 499 658" fill="none" stroke-width="0.8"/>
<path d="M534 700 L600 671 L605 676 L538 708 Z"/>
<path d="M540 712 L608 680 L612 690 L546 720 Z"/>
<path d="M387 708 Q387 703 392 699 L396 696 L400 674.3 Q403 669 410 667 L443 651 L482 668 L512 698 Q515 703 514.3 717 L500 760 L470 790 L432 773.3 L398.6 749.5 Q396 745 395.7 743 L392 716 Q387 713 387 708 Z"/>
<path d="M389 712 L455 748 L516 714 M390 715 L455 751.5 L516 717.5" fill="none" stroke-width="0.7"/>
<path d="M396 697 L453 727 Q460 730 468 726 L512 700" fill="none" stroke-width="0.9"/>
<path d="M405 677 Q404 681 409 684 L458 709 Q465 712 472 708 L498 694" fill="none" stroke-width="0.8"/>
<path d="M405 677 Q407 672 413 670 L440 657" fill="none" stroke-width="0.8"/>
<path d="M447 664 Q456 662 462 677" fill="none" stroke-width="0.6"/>
<path d="M465 733 L466 757 M470 732 Q474 745 470 760" fill="none" stroke-width="0.4" stroke="#666"/>
</g>
<g fill="#fff" stroke="#000" stroke-width="1.1" stroke-linejoin="round">
<path d="M293.6 860 L330 845 L398 876 L392 940 L376 963 L368.6 962.9 L293.6 917 Z" stroke="none"/>
<path d="M293.6 858 L293.6 917 L368.6 962.9 L376 962.9" fill="none" stroke-width="1.2"/>
<path d="M277.6 920 L329 948.6" fill="none" stroke-width="1.2"/>
<path d="M362.9 898.6 L372 914 L372 962 M366 897 L376.5 915 L376.5 962" fill="none" stroke-width="1.1"/>
<path d="M293.6 870 L318.6 855.7 M305.7 867 L327 877.6 M344 887.9 L360 895.7 M370 895.7 L388.6 885.7 M380 917 L388.6 912.9" fill="none" stroke-width="0.5" stroke="#444"/>
<circle cx="332.9" cy="911.4" r="2.2" fill="#fff" stroke-width="1"/><circle cx="332.9" cy="911.4" r="0.8" fill="#000" stroke="none"/>
<ellipse cx="348" cy="873.5" rx="12.5" ry="8" transform="rotate(18 348 873.5)"/>
<ellipse cx="347" cy="872.5" rx="8" ry="5" transform="rotate(18 347 872.5)" stroke-width="0.8"/>
<path d="M340 869 l4 6 M344 868 l3 6 M348 868.5 l3 6" fill="none" stroke-width="0.5"/>
<path d="M281 852 L305 864 L302 871 L277 859.5 Z"/>
<ellipse cx="277.5" cy="855.5" rx="5" ry="7" transform="rotate(-25 277.5 855.5)"/>
<path d="M274.5 850 l5.5 11 M276.5 849.3 l5.5 11 M278.5 849 l4.5 10" fill="none" stroke-width="0.6"/>
<ellipse cx="308" cy="901" rx="12" ry="14" transform="rotate(-15 308 901)"/>
<ellipse cx="305" cy="903" rx="8.5" ry="10.5" transform="rotate(-15 305 903)" stroke-width="0.8"/>
<path d="M309.5 889 l3 3 M313 891 l3 3 M316 894.5 l2.5 3 M318 899 l2 3 M318.5 904 l1.5 3 M318 909 l1 2.5" fill="none" stroke-width="0.8"/>
<path d="M260 891 L286 896 L288 910 L262 906 Z"/>
<ellipse cx="257.5" cy="898.5" rx="4.5" ry="7.5" transform="rotate(-15 257.5 898.5)"/>
<path d="M263 891.5 l-1.5 13 M266 892 l-1.5 13 M269 892.5 l-1.5 13 M272 893 l-1.5 13 M276 894 l-1 13 M279 895 l-1 13 M282 895.5 l-1 13" fill="none" stroke-width="0.6"/>
<path d="M375 832 Q390 826 402 830 Q408 835 405 842 Q400 850 385 853 Q372 855 368 848 Q365 838 375 832 Z"/>
<ellipse cx="384" cy="844" rx="11" ry="6.5" transform="rotate(-15 384 844)" stroke-width="0.9"/>
<path d="M384 837 l0 4 M382.5 841 l3 0" fill="none" stroke-width="1"/>
</g>
<path d="M341.8 838.7 L428 796" fill="none" stroke="#000" stroke-width="1.1"/>
<path d="M650.0 675.0L457.2 561.1Q444.3 553.5 431.1 560.7L285.5 640.4Q246.0 662.0 235.2 705.7L177.3 941.2Q172.0 962.6 191.5 952.3L264.0 914.0" fill="none" stroke="#000" stroke-width="21.0" stroke-linejoin="round" stroke-linecap="round"/>
<path d="M218.5 772 Q223 784 234 790.5 L345 854.5 Q375 870 407 876.5" fill="none" stroke="#000" stroke-width="20.0" stroke-linejoin="round" stroke-linecap="round"/>
<path d="M650.0 675.0L457.2 561.1Q444.3 553.5 431.1 560.7L285.5 640.4Q246.0 662.0 235.2 705.7L177.3 941.2Q172.0 962.6 191.5 952.3L264.0 914.0" fill="none" stroke="#fff" stroke-width="18.2" stroke-linejoin="round" stroke-linecap="round"/>
<path d="M218.5 772 Q223 784 234 790.5 L345 854.5 Q375 870 407 876.5" fill="none" stroke="#fff" stroke-width="17.2" stroke-linejoin="round" stroke-linecap="round"/>
<path d="M227.9 768.5 A10.3 10.3 0 0 0 209.1 775.5 Z" fill="#fff" stroke="none"/>
<path d="M227.9 768.5 A9.5 9.5 0 0 0 209.1 775.5" fill="none" stroke="#888" stroke-width="0.6"/>
<g fill="#fff" stroke="#000" stroke-width="1.1" stroke-linejoin="round">
<path d="M226 932 L262 912 L293.6 917 L368.6 962.9 L378 963 L398 975 L392 1036 L361.4 1031.4 L292.9 994.3 L240.5 950.5 L226 945 Z" stroke="none"/>
<path d="M240.5 950.5 L366 1022.5 M292.9 994.3 L362 1032" fill="none" stroke-width="1.3"/>
<path d="M237.6 941 L262.4 955.2 M275.7 962.9 L344.3 1002.9 M287 987 L293 983" fill="none" stroke-width="0.5" stroke="#444"/>
<circle cx="354.8" cy="1001.5" r="1.2" fill="none" stroke-width="0.6"/>
<path d="M293.6 917 L368.6 962.9 L376 962.9" fill="none" stroke-width="1.2"/>
<path d="M326 940 L327 953 M329 941 L330 955 M333 943 L334 957 M338 946 L338 960 M342 948 L342 962 M346 950 L346 964 M350 953 L350 966 M354 955 L354 967" fill="none" stroke-width="0.9"/>
<path d="M330 955 Q330 962 336 962 Q340 961 340 956 M348 963 Q349 969 354 969 Q358 968 358 964" fill="none" stroke-width="0.9"/>
<path d="M282.4 977 L285.2 986.7 L292.9 994.3 L297.6 1009.5 Q302 1013.5 308 1013.3 L313.8 1013.3 L319.5 1007.6 L320 1004 L292.9 994.3 Z"/>
</g>
<path d="M351.5 609.5L427.4 629.4Q439.0 632.5 447.5 637.8L447.5 637.8Q456.0 643.0 464.8 651.2L531.0 713.0" fill="none" stroke="#000" stroke-width="20.5" stroke-linejoin="round" stroke-linecap="round" />
<path d="M351.5 609.5L427.4 629.4Q439.0 632.5 447.5 637.8L447.5 637.8Q456.0 643.0 464.8 651.2L531.0 713.0" fill="none" stroke="#fff" stroke-width="17.7" stroke-linejoin="round" stroke-linecap="round" />
<path d="M354.1 599.6 A10.5 10.5 0 0 0 348.9 619.4 Z" fill="#fff" stroke="none"/>
<path d="M354.1 599.6 A9.7 9.7 0 0 0 348.9 619.4" fill="none" stroke="#888" stroke-width="0.6"/>
<path d="M345 608.5 l0 0" stroke="#000"/>
<path d="M434.3 801.7Q442.3 772.8 468.4 758.0L616.3 674.1Q658.0 650.4 662.1 698.2L676.2 861.5Q679.1 895.4 649.5 912.1L393.0 1057.0Q358.2 1076.7 368.9 1038.1Z" fill="#fff" stroke="none"/>
<path d="M395.2 1033.5A3.1 4.3 22 1 0 393.2 1039.3M395.2 1010.9A3.1 4.3 22 1 0 393.2 1016.7M400.3 1019.3A3.1 4.3 22 1 0 398.3 1025.1M405.4 1027.7A3.1 4.3 22 1 0 403.4 1033.5M400.3 996.7A3.1 4.3 22 1 0 398.3 1002.5M405.4 1005.1A3.1 4.3 22 1 0 403.4 1010.9M410.5 1013.5A3.1 4.3 22 1 0 408.5 1019.3M415.6 1021.9A3.1 4.3 22 1 0 413.6 1027.7M405.4 982.5A3.1 4.3 22 1 0 403.4 988.3M410.5 990.9A3.1 4.3 22 1 0 408.5 996.7M415.6 999.3A3.1 4.3 22 1 0 413.6 1005.1M420.7 1007.7A3.1 4.3 22 1 0 418.7 1013.5M425.8 1016.1A3.1 4.3 22 1 0 423.8 1021.9M410.5 968.3A3.1 4.3 22 1 0 408.5 974.1M415.6 976.7A3.1 4.3 22 1 0 413.6 982.5M420.7 985.1A3.1 4.3 22 1 0 418.7 990.9M425.8 993.5A3.1 4.3 22 1 0 423.8 999.3M430.9 1001.9A3.1 4.3 22 1 0 428.9 1007.7M436.0 1010.3A3.1 4.3 22 1 0 434.0 1016.1M415.6 954.1A3.1 4.3 22 1 0 413.6 959.9M420.7 962.5A3.1 4.3 22 1 0 418.7 968.3M425.8 970.9A3.1 4.3 22 1 0 423.8 976.7M430.9 979.3A3.1 4.3 22 1 0 428.9 985.1M436.0 987.7A3.1 4.3 22 1 0 434.0 993.5M441.1 996.1A3.1 4.3 22 1 0 439.1 1001.9M446.2 1004.5A3.1 4.3 22 1 0 444.2 1010.3M420.7 939.9A3.1 4.3 22 1 0 418.7 945.7M425.8 948.3A3.1 4.3 22 1 0 423.8 954.1M430.9 956.7A3.1 4.3 22 1 0 428.9 962.5M436.0 965.1A3.1 4.3 22 1 0 434.0 970.9M441.1 973.5A3.1 4.3 22 1 0 439.1 979.3M446.2 981.9A3.1 4.3 22 1 0 444.2 987.7M451.3 990.3A3.1 4.3 22 1 0 449.3 996.1M456.4 998.7A3.1 4.3 22 1 0 454.4 1004.5M420.7 917.3A3.1 4.3 22 1 0 418.7 923.1M425.8 925.7A3.1 4.3 22 1 0 423.8 931.5M430.9 934.1A3.1 4.3 22 1 0 428.9 939.9M436.0 942.5A3.1 4.3 22 1 0 434.0 948.3M441.1 950.9A3.1 4.3 22 1 0 439.1 956.7M446.2 959.3A3.1 4.3 22 1 0 444.2 965.1M451.3 967.7A3.1 4.3 22 1 0 449.3 973.5M456.4 976.1A3.1 4.3 22 1 0 454.4 981.9M461.5 984.5A3.1 4.3 22 1 0 459.5 990.3M466.6 992.9A3.1 4.3 22 1 0 464.6 998.7M425.8 903.1A3.1 4.3 22 1 0 423.8 908.9M430.9 911.5A3.1 4.3 22 1 0 428.9 917.3M436.0 919.9A3.1 4.3 22 1 0 434.0 925.7M441.1 928.3A3.1 4.3 22 1 0 439.1 934.1M446.2 936.7A3.1 4.3 22 1 0 444.2 942.5M451.3 945.1A3.1 4.3 22 1 0 449.3 950.9M456.4 953.5A3.1 4.3 22 1 0 454.4 959.3M461.5 961.9A3.1 4.3 22 1 0 459.5 967.7M466.6 970.3A3.1 4.3 22 1 0 464.6 976.1M471.7 978.7A3.1 4.3 22 1 0 469.7 984.5M476.8 987.1A3.1 4.3 22 1 0 474.8 992.9M430.9 888.9A3.1 4.3 22 1 0 428.9 894.7M436.0 897.3A3.1 4.3 22 1 0 434.0 903.1M441.1 905.7A3.1 4.3 22 1 0 439.1 911.5M446.2 914.1A3.1 4.3 22 1 0 444.2 919.9M451.3 922.5A3.1 4.3 22 1 0 449.3 928.3M456.4 930.9A3.1 4.3 22 1 0 454.4 936.7M461.5 939.3A3.1 4.3 22 1 0 459.5 945.1M466.6 947.7A3.1 4.3 22 1 0 464.6 953.5M471.7 956.1A3.1 4.3 22 1 0 469.7 961.9M476.8 964.5A3.1 4.3 22 1 0 474.8 970.3M481.9 972.9A3.1 4.3 22 1 0 479.9 978.7M487.0 981.3A3.1 4.3 22 1 0 485.0 987.1M436.0 874.7A3.1 4.3 22 1 0 434.0 880.5M441.1 883.1A3.1 4.3 22 1 0 439.1 888.9M446.2 891.5A3.1 4.3 22 1 0 444.2 897.3M451.3 899.9A3.1 4.3 22 1 0 449.3 905.7M456.4 908.3A3.1 4.3 22 1 0 454.4 914.1M461.5 916.7A3.1 4.3 22 1 0 459.5 922.5M466.6 925.1A3.1 4.3 22 1 0 464.6 930.9M471.7 933.5A3.1 4.3 22 1 0 469.7 939.3M476.8 941.9A3.1 4.3 22 1 0 474.8 947.7M481.9 950.3A3.1 4.3 22 1 0 479.9 956.1M487.0 958.7A3.1 4.3 22 1 0 485.0 964.5M492.1 967.1A3.1 4.3 22 1 0 490.1 972.9M497.2 975.5A3.1 4.3 22 1 0 495.2 981.3M441.1 860.5A3.1 4.3 22 1 0 439.1 866.3M446.2 868.9A3.1 4.3 22 1 0 444.2 874.7M451.3 877.3A3.1 4.3 22 1 0 449.3 883.1M456.4 885.7A3.1 4.3 22 1 0 454.4 891.5M461.5 894.1A3.1 4.3 22 1 0 459.5 899.9M466.6 902.5A3.1 4.3 22 1 0 464.6 908.3M471.7 910.9A3.1 4.3 22 1 0 469.7 916.7M476.8 919.3A3.1 4.3 22 1 0 474.8 925.1M481.9 927.7A3.1 4.3 22 1 0 479.9 933.5M487.0 936.1A3.1 4.3 22 1 0 485.0 941.9M492.1 944.5A3.1 4.3 22 1 0 490.1 950.3M497.2 952.9A3.1 4.3 22 1 0 495.2 958.7M502.3 961.3A3.1 4.3 22 1 0 500.3 967.1M507.4 969.7A3.1 4.3 22 1 0 505.4 975.5M446.2 846.3A3.1 4.3 22 1 0 444.2 852.1M451.3 854.7A3.1 4.3 22 1 0 449.3 860.5M456.4 863.1A3.1 4.3 22 1 0 454.4 868.9M461.5 871.5A3.1 4.3 22 1 0 459.5 877.3M466.6 879.9A3.1 4.3 22 1 0 464.6 885.7M471.7 888.3A3.1 4.3 22 1 0 469.7 894.1M476.8 896.7A3.1 4.3 22 1 0 474.8 902.5M481.9 905.1A3.1 4.3 22 1 0 479.9 910.9M487.0 913.5A3.1 4.3 22 1 0 485.0 919.3M492.1 921.9A3.1 4.3 22 1 0 490.1 927.7M497.2 930.3A3.1 4.3 22 1 0 495.2 936.1M502.3 938.7A3.1 4.3 22 1 0 500.3 944.5M507.4 947.1A3.1 4.3 22 1 0 505.4 952.9M512.5 955.5A3.1 4.3 22 1 0 510.5 961.3M517.6 963.9A3.1 4.3 22 1 0 515.6 969.7M451.3 832.1A3.1 4.3 22 1 0 449.3 837.9M456.4 840.5A3.1 4.3 22 1 0 454.4 846.3M461.5 848.9A3.1 4.3 22 1 0 459.5 854.7M466.6 857.3A3.1 4.3 22 1 0 464.6 863.1M471.7 865.7A3.1 4.3 22 1 0 469.7 871.5M476.8 874.1A3.1 4.3 22 1 0 474.8 879.9M481.9 882.5A3.1 4.3 22 1 0 479.9 888.3M487.0 890.9A3.1 4.3 22 1 0 485.0 896.7M492.1 899.3A3.1 4.3 22 1 0 490.1 905.1M497.2 907.7A3.1 4.3 22 1 0 495.2 913.5M502.3 916.1A3.1 4.3 22 1 0 500.3 921.9M507.4 924.5A3.1 4.3 22 1 0 505.4 930.3M512.5 932.9A3.1 4.3 22 1 0 510.5 938.7M517.6 941.3A3.1 4.3 22 1 0 515.6 947.1M522.7 949.7A3.1 4.3 22 1 0 520.7 955.5M527.8 958.1A3.1 4.3 22 1 0 525.8 963.9M451.3 809.5A3.1 4.3 22 1 0 449.3 815.3M456.4 817.9A3.1 4.3 22 1 0 454.4 823.7M461.5 826.3A3.1 4.3 22 1 0 459.5 832.1M466.6 834.7A3.1 4.3 22 1 0 464.6 840.5M471.7 843.1A3.1 4.3 22 1 0 469.7 848.9M476.8 851.5A3.1 4.3 22 1 0 474.8 857.3M481.9 859.9A3.1 4.3 22 1 0 479.9 865.7M487.0 868.3A3.1 4.3 22 1 0 485.0 874.1M492.1 876.7A3.1 4.3 22 1 0 490.1 882.5M497.2 885.1A3.1 4.3 22 1 0 495.2 890.9M502.3 893.5A3.1 4.3 22 1 0 500.3 899.3M507.4 901.9A3.1 4.3 22 1 0 505.4 907.7M512.5 910.3A3.1 4.3 22 1 0 510.5 916.1M517.6 918.7A3.1 4.3 22 1 0 515.6 924.5M522.7 927.1A3.1 4.3 22 1 0 520.7 932.9M527.8 935.5A3.1 4.3 22 1 0 525.8 941.3M532.9 943.9A3.1 4.3 22 1 0 530.9 949.7M538.0 952.3A3.1 4.3 22 1 0 536.0 958.1M456.4 795.3A3.1 4.3 22 1 0 454.4 801.1M461.5 803.7A3.1 4.3 22 1 0 459.5 809.5M466.6 812.1A3.1 4.3 22 1 0 464.6 817.9M471.7 820.5A3.1 4.3 22 1 0 469.7 826.3M476.8 828.9A3.1 4.3 22 1 0 474.8 834.7M481.9 837.3A3.1 4.3 22 1 0 479.9 843.1M487.0 845.7A3.1 4.3 22 1 0 485.0 851.5M492.1 854.1A3.1 4.3 22 1 0 490.1 859.9M497.2 862.5A3.1 4.3 22 1 0 495.2 868.3M502.3 870.9A3.1 4.3 22 1 0 500.3 876.7M507.4 879.3A3.1 4.3 22 1 0 505.4 885.1M512.5 887.7A3.1 4.3 22 1 0 510.5 893.5M517.6 896.1A3.1 4.3 22 1 0 515.6 901.9M522.7 904.5A3.1 4.3 22 1 0 520.7 910.3M527.8 912.9A3.1 4.3 22 1 0 525.8 918.7M532.9 921.3A3.1 4.3 22 1 0 530.9 927.1M538.0 929.7A3.1 4.3 22 1 0 536.0 935.5M543.1 938.1A3.1 4.3 22 1 0 541.1 943.9M548.2 946.5A3.1 4.3 22 1 0 546.2 952.3M466.6 789.5A3.1 4.3 22 1 0 464.6 795.3M471.7 797.9A3.1 4.3 22 1 0 469.7 803.7M476.8 806.3A3.1 4.3 22 1 0 474.8 812.1M481.9 814.7A3.1 4.3 22 1 0 479.9 820.5M487.0 823.1A3.1 4.3 22 1 0 485.0 828.9M492.1 831.5A3.1 4.3 22 1 0 490.1 837.3M497.2 839.9A3.1 4.3 22 1 0 495.2 845.7M502.3 848.3A3.1 4.3 22 1 0 500.3 854.1M507.4 856.7A3.1 4.3 22 1 0 505.4 862.5M512.5 865.1A3.1 4.3 22 1 0 510.5 870.9M517.6 873.5A3.1 4.3 22 1 0 515.6 879.3M522.7 881.9A3.1 4.3 22 1 0 520.7 887.7M527.8 890.3A3.1 4.3 22 1 0 525.8 896.1M532.9 898.7A3.1 4.3 22 1 0 530.9 904.5M538.0 907.1A3.1 4.3 22 1 0 536.0 912.9M543.1 915.5A3.1 4.3 22 1 0 541.1 921.3M548.2 923.9A3.1 4.3 22 1 0 546.2 929.7M553.3 932.3A3.1 4.3 22 1 0 551.3 938.1M558.4 940.7A3.1 4.3 22 1 0 556.4 946.5M471.7 775.3A3.1 4.3 22 1 0 469.7 781.1M476.8 783.7A3.1 4.3 22 1 0 474.8 789.5M481.9 792.1A3.1 4.3 22 1 0 479.9 797.9M487.0 800.5A3.1 4.3 22 1 0 485.0 806.3M492.1 808.9A3.1 4.3 22 1 0 490.1 814.7M497.2 817.3A3.1 4.3 22 1 0 495.2 823.1M502.3 825.7A3.1 4.3 22 1 0 500.3 831.5M507.4 834.1A3.1 4.3 22 1 0 505.4 839.9M512.5 842.5A3.1 4.3 22 1 0 510.5 848.3M517.6 850.9A3.1 4.3 22 1 0 515.6 856.7M522.7 859.3A3.1 4.3 22 1 0 520.7 865.1M527.8 867.7A3.1 4.3 22 1 0 525.8 873.5M532.9 876.1A3.1 4.3 22 1 0 530.9 881.9M538.0 884.5A3.1 4.3 22 1 0 536.0 890.3M543.1 892.9A3.1 4.3 22 1 0 541.1 898.7M548.2 901.3A3.1 4.3 22 1 0 546.2 907.1M553.3 909.7A3.1 4.3 22 1 0 551.3 915.5M558.4 918.1A3.1 4.3 22 1 0 556.4 923.9M563.5 926.5A3.1 4.3 22 1 0 561.5 932.3M568.6 934.9A3.1 4.3 22 1 0 566.6 940.7M481.9 769.5A3.1 4.3 22 1 0 479.9 775.3M487.0 777.9A3.1 4.3 22 1 0 485.0 783.7M492.1 786.3A3.1 4.3 22 1 0 490.1 792.1M497.2 794.7A3.1 4.3 22 1 0 495.2 800.5M502.3 803.1A3.1 4.3 22 1 0 500.3 808.9M517.6 828.3A3.1 4.3 22 1 0 515.6 834.1M522.7 836.7A3.1 4.3 22 1 0 520.7 842.5M527.8 845.1A3.1 4.3 22 1 0 525.8 850.9M532.9 853.5A3.1 4.3 22 1 0 530.9 859.3M538.0 861.9A3.1 4.3 22 1 0 536.0 867.7M543.1 870.3A3.1 4.3 22 1 0 541.1 876.1M548.2 878.7A3.1 4.3 22 1 0 546.2 884.5M553.3 887.1A3.1 4.3 22 1 0 551.3 892.9M558.4 895.5A3.1 4.3 22 1 0 556.4 901.3M563.5 903.9A3.1 4.3 22 1 0 561.5 909.7M568.6 912.3A3.1 4.3 22 1 0 566.6 918.1M573.7 920.7A3.1 4.3 22 1 0 571.7 926.5M578.8 929.1A3.1 4.3 22 1 0 576.8 934.9M492.1 763.7A3.1 4.3 22 1 0 490.1 769.5M497.2 772.1A3.1 4.3 22 1 0 495.2 777.9M502.3 780.5A3.1 4.3 22 1 0 500.3 786.3M507.4 788.9A3.1 4.3 22 1 0 505.4 794.7M532.9 830.9A3.1 4.3 22 1 0 530.9 836.7M538.0 839.3A3.1 4.3 22 1 0 536.0 845.1M543.1 847.7A3.1 4.3 22 1 0 541.1 853.5M548.2 856.1A3.1 4.3 22 1 0 546.2 861.9M553.3 864.5A3.1 4.3 22 1 0 551.3 870.3M558.4 872.9A3.1 4.3 22 1 0 556.4 878.7M563.5 881.3A3.1 4.3 22 1 0 561.5 887.1M568.6 889.7A3.1 4.3 22 1 0 566.6 895.5M573.7 898.1A3.1 4.3 22 1 0 571.7 903.9M578.8 906.5A3.1 4.3 22 1 0 576.8 912.3M583.9 914.9A3.1 4.3 22 1 0 581.9 920.7M589.0 923.3A3.1 4.3 22 1 0 587.0 929.1M502.3 757.9A3.1 4.3 22 1 0 500.3 763.7M507.4 766.3A3.1 4.3 22 1 0 505.4 772.1M512.5 774.7A3.1 4.3 22 1 0 510.5 780.5M543.1 825.1A3.1 4.3 22 1 0 541.1 830.9M548.2 833.5A3.1 4.3 22 1 0 546.2 839.3M553.3 841.9A3.1 4.3 22 1 0 551.3 847.7M558.4 850.3A3.1 4.3 22 1 0 556.4 856.1M563.5 858.7A3.1 4.3 22 1 0 561.5 864.5M568.6 867.1A3.1 4.3 22 1 0 566.6 872.9M573.7 875.5A3.1 4.3 22 1 0 571.7 881.3M578.8 883.9A3.1 4.3 22 1 0 576.8 889.7M583.9 892.3A3.1 4.3 22 1 0 581.9 898.1M589.0 900.7A3.1 4.3 22 1 0 587.0 906.5M594.1 909.1A3.1 4.3 22 1 0 592.1 914.9M599.2 917.5A3.1 4.3 22 1 0 597.2 923.3M512.5 752.1A3.1 4.3 22 1 0 510.5 757.9M517.6 760.5A3.1 4.3 22 1 0 515.6 766.3M522.7 768.9A3.1 4.3 22 1 0 520.7 774.7M553.3 819.3A3.1 4.3 22 1 0 551.3 825.1M558.4 827.7A3.1 4.3 22 1 0 556.4 833.5M563.5 836.1A3.1 4.3 22 1 0 561.5 841.9M568.6 844.5A3.1 4.3 22 1 0 566.6 850.3M573.7 852.9A3.1 4.3 22 1 0 571.7 858.7M578.8 861.3A3.1 4.3 22 1 0 576.8 867.1M583.9 869.7A3.1 4.3 22 1 0 581.9 875.5M589.0 878.1A3.1 4.3 22 1 0 587.0 883.9M594.1 886.5A3.1 4.3 22 1 0 592.1 892.3M599.2 894.9A3.1 4.3 22 1 0 597.2 900.7M604.3 903.3A3.1 4.3 22 1 0 602.3 909.1M609.4 911.7A3.1 4.3 22 1 0 607.4 917.5M522.7 746.3A3.1 4.3 22 1 0 520.7 752.1M527.8 754.7A3.1 4.3 22 1 0 525.8 760.5M532.9 763.1A3.1 4.3 22 1 0 530.9 768.9M558.4 805.1A3.1 4.3 22 1 0 556.4 810.9M563.5 813.5A3.1 4.3 22 1 0 561.5 819.3M568.6 821.9A3.1 4.3 22 1 0 566.6 827.7M573.7 830.3A3.1 4.3 22 1 0 571.7 836.1M578.8 838.7A3.1 4.3 22 1 0 576.8 844.5M583.9 847.1A3.1 4.3 22 1 0 581.9 852.9M589.0 855.5A3.1 4.3 22 1 0 587.0 861.3M594.1 863.9A3.1 4.3 22 1 0 592.1 869.7M599.2 872.3A3.1 4.3 22 1 0 597.2 878.1M604.3 880.7A3.1 4.3 22 1 0 602.3 886.5M609.4 889.1A3.1 4.3 22 1 0 607.4 894.9M614.5 897.5A3.1 4.3 22 1 0 612.5 903.3M619.6 905.9A3.1 4.3 22 1 0 617.6 911.7M532.9 740.5A3.1 4.3 22 1 0 530.9 746.3M538.0 748.9A3.1 4.3 22 1 0 536.0 754.7M543.1 757.3A3.1 4.3 22 1 0 541.1 763.1M548.2 765.7A3.1 4.3 22 1 0 546.2 771.5M553.3 774.1A3.1 4.3 22 1 0 551.3 779.9M558.4 782.5A3.1 4.3 22 1 0 556.4 788.3M563.5 790.9A3.1 4.3 22 1 0 561.5 796.7M568.6 799.3A3.1 4.3 22 1 0 566.6 805.1M573.7 807.7A3.1 4.3 22 1 0 571.7 813.5M578.8 816.1A3.1 4.3 22 1 0 576.8 821.9M583.9 824.5A3.1 4.3 22 1 0 581.9 830.3M589.0 832.9A3.1 4.3 22 1 0 587.0 838.7M594.1 841.3A3.1 4.3 22 1 0 592.1 847.1M599.2 849.7A3.1 4.3 22 1 0 597.2 855.5M604.3 858.1A3.1 4.3 22 1 0 602.3 863.9M609.4 866.5A3.1 4.3 22 1 0 607.4 872.3M614.5 874.9A3.1 4.3 22 1 0 612.5 880.7M619.6 883.3A3.1 4.3 22 1 0 617.6 889.1M624.7 891.7A3.1 4.3 22 1 0 622.7 897.5M629.8 900.1A3.1 4.3 22 1 0 627.8 905.9M543.1 734.7A3.1 4.3 22 1 0 541.1 740.5M548.2 743.1A3.1 4.3 22 1 0 546.2 748.9M553.3 751.5A3.1 4.3 22 1 0 551.3 757.3M558.4 759.9A3.1 4.3 22 1 0 556.4 765.7M563.5 768.3A3.1 4.3 22 1 0 561.5 774.1M568.6 776.7A3.1 4.3 22 1 0 566.6 782.5M573.7 785.1A3.1 4.3 22 1 0 571.7 790.9M578.8 793.5A3.1 4.3 22 1 0 576.8 799.3M583.9 801.9A3.1 4.3 22 1 0 581.9 807.7M589.0 810.3A3.1 4.3 22 1 0 587.0 816.1M594.1 818.7A3.1 4.3 22 1 0 592.1 824.5M599.2 827.1A3.1 4.3 22 1 0 597.2 832.9M604.3 835.5A3.1 4.3 22 1 0 602.3 841.3M609.4 843.9A3.1 4.3 22 1 0 607.4 849.7M614.5 852.3A3.1 4.3 22 1 0 612.5 858.1M619.6 860.7A3.1 4.3 22 1 0 617.6 866.5M624.7 869.1A3.1 4.3 22 1 0 622.7 874.9M629.8 877.5A3.1 4.3 22 1 0 627.8 883.3M634.9 885.9A3.1 4.3 22 1 0 632.9 891.7M640.0 894.3A3.1 4.3 22 1 0 638.0 900.1M553.3 728.9A3.1 4.3 22 1 0 551.3 734.7M558.4 737.3A3.1 4.3 22 1 0 556.4 743.1M563.5 745.7A3.1 4.3 22 1 0 561.5 751.5M568.6 754.1A3.1 4.3 22 1 0 566.6 759.9M573.7 762.5A3.1 4.3 22 1 0 571.7 768.3M578.8 770.9A3.1 4.3 22 1 0 576.8 776.7M583.9 779.3A3.1 4.3 22 1 0 581.9 785.1M589.0 787.7A3.1 4.3 22 1 0 587.0 793.5M594.1 796.1A3.1 4.3 22 1 0 592.1 801.9M599.2 804.5A3.1 4.3 22 1 0 597.2 810.3M604.3 812.9A3.1 4.3 22 1 0 602.3 818.7M609.4 821.3A3.1 4.3 22 1 0 607.4 827.1M614.5 829.7A3.1 4.3 22 1 0 612.5 835.5M619.6 838.1A3.1 4.3 22 1 0 617.6 843.9M624.7 846.5A3.1 4.3 22 1 0 622.7 852.3M629.8 854.9A3.1 4.3 22 1 0 627.8 860.7M634.9 863.3A3.1 4.3 22 1 0 632.9 869.1M640.0 871.7A3.1 4.3 22 1 0 638.0 877.5M645.1 880.1A3.1 4.3 22 1 0 643.1 885.9M650.2 888.5A3.1 4.3 22 1 0 648.2 894.3M563.5 723.1A3.1 4.3 22 1 0 561.5 728.9M568.6 731.5A3.1 4.3 22 1 0 566.6 737.3M573.7 739.9A3.1 4.3 22 1 0 571.7 745.7M578.8 748.3A3.1 4.3 22 1 0 576.8 754.1M583.9 756.7A3.1 4.3 22 1 0 581.9 762.5M589.0 765.1A3.1 4.3 22 1 0 587.0 770.9M594.1 773.5A3.1 4.3 22 1 0 592.1 779.3M599.2 781.9A3.1 4.3 22 1 0 597.2 787.7M604.3 790.3A3.1 4.3 22 1 0 602.3 796.1M609.4 798.7A3.1 4.3 22 1 0 607.4 804.5M614.5 807.1A3.1 4.3 22 1 0 612.5 812.9M619.6 815.5A3.1 4.3 22 1 0 617.6 821.3M624.7 823.9A3.1 4.3 22 1 0 622.7 829.7M629.8 832.3A3.1 4.3 22 1 0 627.8 838.1M634.9 840.7A3.1 4.3 22 1 0 632.9 846.5M640.0 849.1A3.1 4.3 22 1 0 638.0 854.9M645.1 857.5A3.1 4.3 22 1 0 643.1 863.3M650.2 865.9A3.1 4.3 22 1 0 648.2 871.7M655.3 874.3A3.1 4.3 22 1 0 653.3 880.1M573.7 717.3A3.1 4.3 22 1 0 571.7 723.1M578.8 725.7A3.1 4.3 22 1 0 576.8 731.5M583.9 734.1A3.1 4.3 22 1 0 581.9 739.9M589.0 742.5A3.1 4.3 22 1 0 587.0 748.3M594.1 750.9A3.1 4.3 22 1 0 592.1 756.7M599.2 759.3A3.1 4.3 22 1 0 597.2 765.1M604.3 767.7A3.1 4.3 22 1 0 602.3 773.5M609.4 776.1A3.1 4.3 22 1 0 607.4 781.9M614.5 784.5A3.1 4.3 22 1 0 612.5 790.3M619.6 792.9A3.1 4.3 22 1 0 617.6 798.7M624.7 801.3A3.1 4.3 22 1 0 622.7 807.1M629.8 809.7A3.1 4.3 22 1 0 627.8 815.5M634.9 818.1A3.1 4.3 22 1 0 632.9 823.9M640.0 826.5A3.1 4.3 22 1 0 638.0 832.3M645.1 834.9A3.1 4.3 22 1 0 643.1 840.7M650.2 843.3A3.1 4.3 22 1 0 648.2 849.1M655.3 851.7A3.1 4.3 22 1 0 653.3 857.5M660.4 860.1A3.1 4.3 22 1 0 658.4 865.9M583.9 711.5A3.1 4.3 22 1 0 581.9 717.3M589.0 719.9A3.1 4.3 22 1 0 587.0 725.7M594.1 728.3A3.1 4.3 22 1 0 592.1 734.1M599.2 736.7A3.1 4.3 22 1 0 597.2 742.5M604.3 745.1A3.1 4.3 22 1 0 602.3 750.9M609.4 753.5A3.1 4.3 22 1 0 607.4 759.3M614.5 761.9A3.1 4.3 22 1 0 612.5 767.7M619.6 770.3A3.1 4.3 22 1 0 617.6 776.1M624.7 778.7A3.1 4.3 22 1 0 622.7 784.5M629.8 787.1A3.1 4.3 22 1 0 627.8 792.9M634.9 795.5A3.1 4.3 22 1 0 632.9 801.3M640.0 803.9A3.1 4.3 22 1 0 638.0 809.7M645.1 812.3A3.1 4.3 22 1 0 643.1 818.1M650.2 820.7A3.1 4.3 22 1 0 648.2 826.5M655.3 829.1A3.1 4.3 22 1 0 653.3 834.9M660.4 837.5A3.1 4.3 22 1 0 658.4 843.3M594.1 705.7A3.1 4.3 22 1 0 592.1 711.5M599.2 714.1A3.1 4.3 22 1 0 597.2 719.9M604.3 722.5A3.1 4.3 22 1 0 602.3 728.3M609.4 730.9A3.1 4.3 22 1 0 607.4 736.7M614.5 739.3A3.1 4.3 22 1 0 612.5 745.1M619.6 747.7A3.1 4.3 22 1 0 617.6 753.5M624.7 756.1A3.1 4.3 22 1 0 622.7 761.9M629.8 764.5A3.1 4.3 22 1 0 627.8 770.3M634.9 772.9A3.1 4.3 22 1 0 632.9 778.7M640.0 781.3A3.1 4.3 22 1 0 638.0 787.1M645.1 789.7A3.1 4.3 22 1 0 643.1 795.5M650.2 798.1A3.1 4.3 22 1 0 648.2 803.9M655.3 806.5A3.1 4.3 22 1 0 653.3 812.3M660.4 814.9A3.1 4.3 22 1 0 658.4 820.7M604.3 699.9A3.1 4.3 22 1 0 602.3 705.7M609.4 708.3A3.1 4.3 22 1 0 607.4 714.1M614.5 716.7A3.1 4.3 22 1 0 612.5 722.5M619.6 725.1A3.1 4.3 22 1 0 617.6 730.9M624.7 733.5A3.1 4.3 22 1 0 622.7 739.3M629.8 741.9A3.1 4.3 22 1 0 627.8 747.7M634.9 750.3A3.1 4.3 22 1 0 632.9 756.1M640.0 758.7A3.1 4.3 22 1 0 638.0 764.5M645.1 767.1A3.1 4.3 22 1 0 643.1 772.9M650.2 775.5A3.1 4.3 22 1 0 648.2 781.3M655.3 783.9A3.1 4.3 22 1 0 653.3 789.7M614.5 694.1A3.1 4.3 22 1 0 612.5 699.9M619.6 702.5A3.1 4.3 22 1 0 617.6 708.3M624.7 710.9A3.1 4.3 22 1 0 622.7 716.7M629.8 719.3A3.1 4.3 22 1 0 627.8 725.1M634.9 727.7A3.1 4.3 22 1 0 632.9 733.5M640.0 736.1A3.1 4.3 22 1 0 638.0 741.9M645.1 744.5A3.1 4.3 22 1 0 643.1 750.3M650.2 752.9A3.1 4.3 22 1 0 648.2 758.7M655.3 761.3A3.1 4.3 22 1 0 653.3 767.1M624.7 688.3A3.1 4.3 22 1 0 622.7 694.1M629.8 696.7A3.1 4.3 22 1 0 627.8 702.5M634.9 705.1A3.1 4.3 22 1 0 632.9 710.9M640.0 713.5A3.1 4.3 22 1 0 638.0 719.3M645.1 721.9A3.1 4.3 22 1 0 643.1 727.7M650.2 730.3A3.1 4.3 22 1 0 648.2 736.1M634.9 682.5A3.1 4.3 22 1 0 632.9 688.3M640.0 690.9A3.1 4.3 22 1 0 638.0 696.7M645.1 699.3A3.1 4.3 22 1 0 643.1 705.1M650.2 707.7A3.1 4.3 22 1 0 648.2 713.5" fill="none" stroke="#000" stroke-width="1.05"/>
<g stroke="#000" fill="#fff">
<clipPath id="wc"><ellipse cx="526.8" cy="801.4" rx="16.5" ry="24" transform="rotate(22 526.8 801.4)"/></clipPath>
<ellipse cx="526.8" cy="801.4" rx="16.5" ry="24" transform="rotate(22 526.8 801.4)" stroke-width="1.3"/>
<g clip-path="url(#wc)"><path d="M505 784.0 L524 784.0M505 785.6 L524 785.6M505 787.2 L524 787.2M505 788.8 L524 788.8M505 790.4 L524 790.4M505 792.0 L524 792.0M505 793.6 L524 793.6M505 795.2 L524 795.2M505 796.8 L524 796.8M505 798.4 L524 798.4M505 800.0 L524 800.0M505 801.6 L524 801.6M505 803.2 L524 803.2M505 804.8 L524 804.8M505 806.4 L524 806.4M505 808.0 L524 808.0M505 809.6 L524 809.6M505 811.2 L524 811.2M505 812.8 L524 812.8M505 814.4 L524 814.4M505 816.0 L524 816.0M505 817.6 L524 817.6M505 819.2 L524 819.2M505 820.8 L524 820.8" stroke-width="0.7"/><path d="M524 780 L524 826 M527.5 778 L527.5 826 M532 778 L532 822" stroke-width="0.9"/></g>
</g>
<circle cx="529" cy="741" r="1" fill="none" stroke="#000" stroke-width="0.7"/>
<path d="M434.3 801.7Q442.3 772.8 468.4 758.0L616.3 674.1Q658.0 650.4 662.1 698.2L676.2 861.5Q679.1 895.4 649.5 912.1L393.0 1057.0Q358.2 1076.7 368.9 1038.1Z" fill="none" stroke="#000" stroke-width="20.0" stroke-linejoin="round" stroke-linecap="round" />
<path d="M434.3 801.7Q442.3 772.8 468.4 758.0L616.3 674.1Q658.0 650.4 662.1 698.2L676.2 861.5Q679.1 895.4 649.5 912.1L393.0 1057.0Q358.2 1076.7 368.9 1038.1Z" fill="none" stroke="#fff" stroke-width="17.2" stroke-linejoin="round" stroke-linecap="round" />
<path d="M508.8 678.2 L538.0 705.5 A10.25 10.25 0 0 1 524.0 720.5 L494.8 693.2 Z" fill="#fff" stroke="none"/>
<path d="M508.3 678.7 L537.5 706.0 M495.2 692.7 L524.5 720.0" fill="none" stroke="#000" stroke-width="1.4"/>
<path d="M537.5 706.0 A9.55 9.55 0 0 1 524.5 720.0" fill="none" stroke="#888" stroke-width="0.6"/>
<clipPath id="cbend"><rect x="391" y="850" width="40" height="50"/></clipPath>
<g clip-path="url(#cbend)">
<path d="M221 785 L345 854.5 Q375 870 407 876.5" fill="none" stroke="#000" stroke-width="20" stroke-linecap="round"/>
<path d="M221 785 L345 854.5 Q375 870 407 876.5" fill="none" stroke="#fff" stroke-width="17.2" stroke-linecap="round"/>
</g>
<g fill="#fff" stroke="#000" stroke-width="1.1" stroke-linejoin="round">
<path d="M418 1050 L448 1040 L446 1060 L436 1066 Z"/>
<path d="M405.7 1060 Q404 1068 408 1074 Q418 1080 432 1078 Q444 1074 446 1064 L446 1056 L430 1063 Z"/>
<path d="M406 1061 Q418 1068 432 1066 L446 1058" fill="none" stroke-width="0.8"/>
<path d="M430 1066 L430 1078" fill="none" stroke-width="0.6"/>
</g>
<g stroke="#000" stroke-linejoin="round">
<ellipse cx="629.3" cy="965.5" rx="63.8" ry="83.2" transform="rotate(26.4 629.3 965.5)" fill="#fff" stroke-width="1.3"/>
<path d="M660.6 923.3L663.1 900.9L664.9 921.3M663.1 900.9L655.2 897.0M653.2 925.9L650.5 898.6L658.9 922.4M650.5 898.6L641.0 897.1M645.7 930.1L636.6 900.5L652.0 925.2M636.6 900.5L626.5 901.5M637.6 936.5L622.6 906.3L644.4 929.9M622.6 906.3L612.2 909.9M629.3 945.1L609.0 916.2L636.4 936.8M609.0 916.2L599.1 922.1M621.9 955.1L597.0 929.2L628.4 945.8M597.0 929.2L588.1 937.1M615.0 967.1L587.3 944.6L621.2 956.1M587.3 944.6L579.9 954.2M610.1 978.7L580.3 961.8L615.2 967.3M580.3 961.8L575.1 972.0M606.6 990.5L576.8 979.2L610.3 979.9M576.8 979.2L573.8 989.6M605.0 1001.2L576.7 996.0L607.3 991.6M576.7 996.0L576.2 1005.7M604.9 1010.3L580.1 1010.8L606.1 1002.0M580.1 1010.8L582.1 1019.5M606.1 1017.8L586.7 1023.2L606.4 1010.8M586.7 1023.2L590.9 1030.1M608.1 1023.0L595.9 1032.0L607.9 1017.8M595.9 1032.0L602.1 1036.7" fill="none" stroke="#8f8f8f" stroke-width="0.7"/>
<path d="M570.5 1004 Q571 970 583 940 Q597 912 620 897 Q634 889 648 887" fill="none" stroke="#666" stroke-width="0.9"/>
<path d="M572.5 1004 Q573 971 585 941 Q599 914 621 899 Q635 891 649 889" fill="none" stroke="#888" stroke-width="0.7"/>
<ellipse cx="653.7" cy="984" rx="33.4" ry="65.5" transform="rotate(28.3 653.7 984)" fill="#fff" stroke-width="0.7" stroke="#555"/>
<path d="M675.4 1009.9Q672.1 1012.0 666.8 1014.1M655.0 1032.1Q653.0 1030.3 648.9 1028.5M634.3 1041.4Q634.3 1036.2 632.3 1031.1M618.8 1035.4Q621.1 1028.2 621.4 1021.0M612.7 1015.5Q616.9 1008.3 619.2 1001.0M617.5 987.3Q622.8 981.9 626.2 976.5M632.0 958.1Q637.3 956.0 640.6 953.9M652.4 935.9Q656.4 937.7 658.5 939.5M673.1 926.6Q675.1 931.8 675.1 936.9M688.6 932.6Q688.3 939.8 686.0 947.0M694.7 952.5Q692.5 959.7 688.2 967.0M689.9 980.7Q686.6 986.1 681.2 991.5" fill="none" stroke="#999" stroke-width="0.6"/>
<ellipse cx="651" cy="978" rx="26" ry="33" transform="rotate(25 651 978)" fill="#fff" stroke-width="1.2"/>
<ellipse cx="651.5" cy="978" rx="22" ry="29" transform="rotate(25 651.5 978)" fill="#fff" stroke-width="1"/>
<path d="M655.8 982.4L666.9 994.6M651.2 985.2L650.0 1005.6M646.9 983.7L633.9 1000.4M645.2 978.9L628.1 982.0M647.2 973.6L636.1 961.4M651.8 970.8L653.0 950.4M656.1 972.3L669.1 955.6M657.8 977.1L674.9 974.0" fill="none" stroke-width="1"/>
<ellipse cx="651.5" cy="978" rx="6" ry="7.5" transform="rotate(25 651.5 978)" fill="#fff" stroke-width="1"/>
</g>
<path d="M296 906 Q270 910 252 913 Q236 918 234 935 Q233 958 245 978 Q257 995 253 1028 L247 1074" fill="none" stroke="#000" stroke-width="10" stroke-linecap="butt"/>
<path d="M296 906 Q270 910 252 913 Q236 918 234 935 Q233 958 245 978 Q257 995 253 1028 L247 1074" fill="none" stroke="#fff" stroke-width="8" stroke-linecap="butt"/>
<g fill="#fff" stroke="#000" stroke-width="1.1">
<path d="M239.3 1076 Q239 1072 246.5 1072 Q253.5 1072 253.6 1076 L253.6 1099 Q253 1102.5 246.5 1102.5 Q240 1102.5 239.3 1099 Z"/>
<path d="M239.5 1078 Q246.5 1082 253.5 1078" fill="none" stroke-width="0.8"/>
<rect x="243.6" y="1081.4" width="6.4" height="10.6" fill="#111" stroke-width="0.6"/>
<path d="M241.5 1081 L241.5 1093 M251.8 1081 L251.8 1093 M239.5 1093 Q246.5 1096 253.5 1093" fill="none" stroke-width="0.6"/>
</g>
<g fill="#fff" stroke="#000" stroke-width="1.1">
<path d="M403 1112 Q404 1105 425 1104.5 Q446 1105 447 1112 L442 1138 Q440 1143 425 1143 Q410 1143 408 1138 Z"/>
<path d="M403 1112 Q406 1118 425 1118.5 Q444 1118 447 1112" fill="none" stroke-width="0.8"/>
<path d="M421 1082 L421 1106" fill="none" stroke-width="0.8"/>
<path d="M418 1104 L418 1116 L425 1116 L425 1104 M418 1107 l7 -1.5 M418 1110 l7 -1.5 M418 1113 l7 -1.5" fill="none" stroke-width="0.7"/>
</g>
</svg></body></html>
